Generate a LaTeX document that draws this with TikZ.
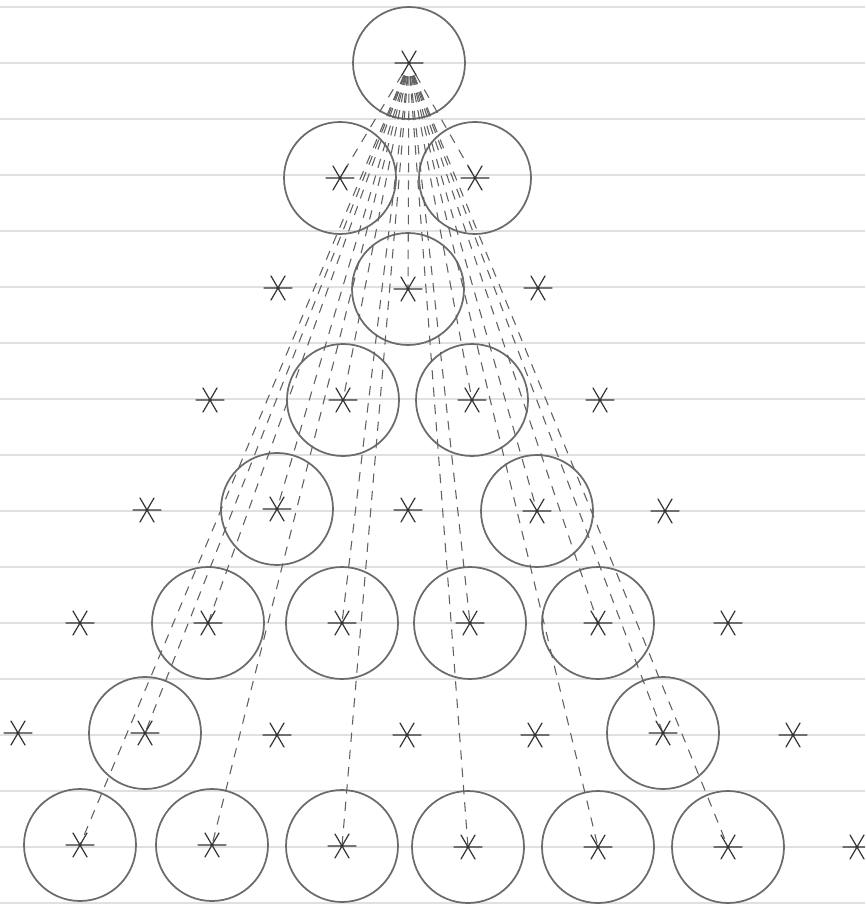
\documentclass[tikz,border=0pt]{standalone}
\begin{document}
\begin{tikzpicture}[x=0.75pt,y=-0.75pt,
  ruled/.style={draw=black!12,line width=1pt},
  ring/.style={circle,draw=black!58,line width=1.3pt,minimum size=84pt,inner sep=0pt},
  starline/.style={draw=black!80,line width=0.9pt,line cap=round},
  dashline/.style={draw=black!62,line width=0.8pt,dash pattern=on 7pt off 6pt,shorten <=10pt},
  pics/astx/.style={code={\draw[starline] (-14,0)--(14,0) (-7,12)--(7,-12) (-7,-12)--(7,12);}}]
\useasboundingbox (0,0) rectangle (865,909);
\clip (0,0) rectangle (865,909);
\fill[white] (0,0) rectangle (865,909);
% ruled paper
\foreach \i in {0,...,16} { \draw[ruled] (0,7+56*\i) -- (865,7+56*\i); }
% circled lattice points
\node[ring] (n00) at (409,63) {};
\node[ring] (n10) at (340,178) {};
\node[ring] (n11) at (475,178) {};
\node[ring] (n21) at (408,289) {};
\node[ring] (n31) at (343,400) {};
\node[ring] (n32) at (472,400) {};
\node[ring] (n41) at (277,509) {};
\node[ring] (n43) at (537,511) {};
\node[ring] (n51) at (208,623) {};
\node[ring] (n52) at (342,623) {};
\node[ring] (n53) at (470,623) {};
\node[ring] (n54) at (598,623) {};
\node[ring] (n61) at (145,733) {};
\node[ring] (n65) at (663,733) {};
\node[ring] (n70) at (80,845) {};
\node[ring] (n71) at (212,845) {};
\node[ring] (n72) at (342,846) {};
\node[ring] (n73) at (468,847) {};
\node[ring] (n74) at (598,847) {};
\node[ring] (n75) at (728,847) {};
% uncircled lattice points
\coordinate (n20) at (278,288);
\coordinate (n22) at (538,288);
\coordinate (n30) at (210,400);
\coordinate (n33) at (600,400);
\coordinate (n40) at (147,510);
\coordinate (n42) at (408,510);
\coordinate (n44) at (665,511);
\coordinate (n50) at (80,623);
\coordinate (n55) at (728,623);
\coordinate (n60) at (18,733);
\coordinate (n62) at (277,735);
\coordinate (n63) at (407,735);
\coordinate (n64) at (535,735);
\coordinate (n66) at (793,735);
\coordinate (n76) at (857,847);
% dashed fan from the apex to every circled point
\foreach \t in {n10,n11,n21,n31,n32,n41,n43,n51,n52,n53,n54,n61,n65,n70,n71,n72,n73,n74,n75}
  { \draw[dashline] (n00.center) -- (\t.center); }
% star marks
\foreach \p in {n00,n10,n11,n21,n31,n32,n41,n43,n51,n52,n53,n54,n61,n65,n70,n71,n72,n73,n74,n75}
  { \pic at (\p.center) {astx}; }
\foreach \p in {n20,n22,n30,n33,n40,n42,n44,n50,n55,n60,n62,n63,n64,n66,n76}
  { \pic at (\p) {astx}; }
\end{tikzpicture}
\end{document}
